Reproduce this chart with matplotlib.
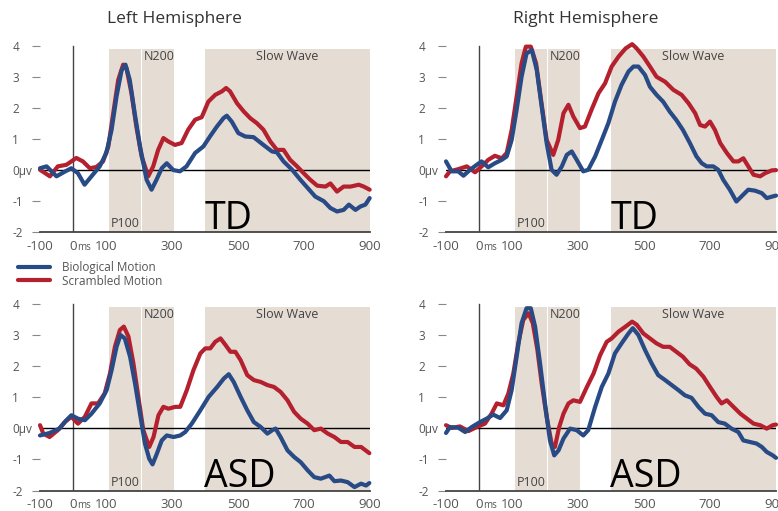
import matplotlib
matplotlib.use("Agg")
import matplotlib.pyplot as plt

plt.rcParams['font.family'] = ['Open Sans', 'DejaVu Sans']

# ---------------- data (ms, µV) ----------------
tl_bio_x = [-100, -80, -50, -25, -5, 15, 35, 56, 81, 101, 117, 132, 147, 159, 172, 187, 203, 223, 238, 253, 269, 284, 304, 324, 344, 370, 395, 415, 436, 456, 466, 481, 501, 522, 547, 577, 603, 618, 638, 664, 689, 714, 734, 760, 780, 800, 820, 836, 856, 871, 886, 899]
tl_bio_y = [0.06, 0.12, -0.2, -0.05, 0.06, -0.1, -0.47, -0.2, 0.12, 0.55, 1.3, 2.37, 3.2, 3.39, 2.9, 1.83, 0.76, -0.31, -0.63, -0.31, 0.06, 0.22, 0.0, -0.04, 0.12, 0.55, 0.76, 1.08, 1.4, 1.67, 1.75, 1.56, 1.19, 1.08, 1.06, 0.81, 0.6, 0.57, 0.28, 0.01, -0.31, -0.61, -0.85, -1.0, -1.22, -1.33, -1.28, -1.11, -1.28, -1.17, -1.11, -0.9]
tl_scr_x = [-100, -70, -46, -20, 10, 30, 51, 71, 91, 107, 122, 137, 152, 162, 177, 192, 208, 228, 243, 258, 274, 289, 309, 329, 349, 370, 390, 410, 431, 451, 464, 476, 497, 517, 537, 557, 577, 598, 618, 638, 658, 679, 699, 719, 740, 765, 780, 800, 820, 841, 866, 881, 899]
tl_scr_y = [0.01, -0.2, 0.12, 0.17, 0.39, 0.28, 0.06, 0.1, 0.28, 0.76, 1.83, 2.9, 3.39, 3.28, 2.48, 1.4, 0.44, -0.2, 0.12, 0.65, 1.03, 0.92, 0.81, 0.87, 1.3, 1.62, 1.7, 2.2, 2.42, 2.53, 2.64, 2.53, 2.15, 1.89, 1.67, 1.51, 1.3, 0.92, 0.65, 0.65, 0.33, 0.12, -0.1, -0.31, -0.5, -0.53, -0.43, -0.69, -0.53, -0.53, -0.47, -0.53, -0.63]

tr_bio_x = [-100, -83, -63, -47, -27, -7, 8, 28, 48, 69, 84, 99, 114, 129, 144, 160, 175, 190, 205, 220, 235, 251, 266, 281, 296, 316, 331, 352, 372, 392, 412, 432, 453, 468, 483, 503, 518, 538, 558, 578, 598, 618, 639, 659, 675, 690, 710, 725, 740, 760, 780, 796, 816, 836, 857, 872, 892, 900]
tr_bio_y = [0.28, -0.04, -0.04, -0.18, 0.01, 0.17, 0.28, 0.09, 0.22, 0.33, 0.44, 0.97, 1.94, 3.0, 3.75, 3.86, 3.22, 2.04, 0.87, 0.01, -0.15, 0.12, 0.49, 0.6, 0.33, -0.04, 0.01, 0.44, 0.97, 1.51, 2.2, 2.74, 3.17, 3.33, 3.33, 3.06, 2.68, 2.42, 2.2, 1.88, 1.61, 1.29, 0.87, 0.44, 0.22, 0.12, 0.12, 0.01, -0.31, -0.63, -1.01, -0.84, -0.63, -0.66, -0.74, -0.9, -0.84, -0.82]
tr_scr_x = [-100, -88, -63, -37, -12, 8, 28, 48, 69, 84, 99, 114, 129, 142, 157, 173, 188, 205, 225, 240, 256, 271, 286, 306, 321, 341, 362, 382, 402, 423, 444, 464, 478, 498, 518, 538, 564, 589, 614, 635, 655, 670, 685, 700, 715, 731, 751, 771, 786, 801, 816, 832, 852, 867, 887, 900]
tr_scr_y = [-0.2, -0.04, 0.03, 0.12, -0.07, 0.12, 0.33, 0.46, 0.38, 0.55, 1.29, 2.36, 3.43, 3.97, 3.97, 3.43, 2.26, 0.97, 0.49, 0.97, 1.83, 2.1, 1.72, 1.35, 1.4, 1.94, 2.47, 2.79, 3.33, 3.65, 3.91, 4.05, 3.91, 3.65, 3.33, 3.0, 2.84, 2.58, 2.42, 2.15, 1.83, 1.45, 1.4, 1.56, 1.29, 0.87, 0.55, 0.28, 0.28, 0.38, 0.12, -0.15, -0.2, -0.1, -0.01, 0.0]

bl_bio_x = [-100, -71, -41, -20, -5, 15, 36, 56, 81, 102, 117, 132, 144, 157, 173, 188, 203, 218, 231, 241, 254, 269, 284, 305, 325, 340, 360, 386, 411, 437, 457, 472, 487, 508, 528, 548, 569, 589, 604, 614, 629, 650, 670, 690, 711, 731, 751, 777, 792, 812, 832, 853, 873, 888, 898]
bl_bio_y = [-0.23, -0.15, -0.01, 0.26, 0.42, 0.31, 0.26, 0.47, 0.8, 1.23, 1.87, 2.62, 3.0, 2.89, 2.3, 1.44, 0.47, -0.49, -0.98, -1.16, -0.82, -0.39, -0.23, -0.28, -0.23, -0.12, 0.15, 0.58, 1.01, 1.33, 1.6, 1.74, 1.49, 1.01, 0.58, 0.2, 0.04, -0.17, -0.06, -0.01, -0.28, -0.71, -0.92, -1.09, -1.35, -1.57, -1.62, -1.52, -1.7, -1.68, -1.73, -1.89, -1.78, -1.84, -1.76]
bl_scr_x = [-100, -90, -71, -46, -25, -5, 15, 36, 56, 76, 96, 112, 127, 142, 154, 168, 183, 198, 213, 231, 244, 259, 274, 289, 310, 325, 345, 365, 386, 401, 416, 431, 447, 462, 477, 492, 508, 528, 548, 569, 589, 609, 629, 650, 670, 690, 711, 731, 751, 772, 792, 812, 832, 853, 873, 898]
bl_scr_y = [0.1, -0.17, -0.28, -0.06, 0.2, 0.37, 0.15, 0.37, 0.8, 0.8, 1.12, 1.76, 2.62, 3.16, 3.27, 2.95, 2.09, 1.01, -0.06, -0.6, -0.28, 0.42, 0.69, 0.63, 0.69, 0.69, 1.23, 1.87, 2.41, 2.57, 2.57, 2.78, 2.89, 2.68, 2.46, 2.46, 2.19, 1.71, 1.55, 1.49, 1.39, 1.33, 1.17, 0.9, 0.53, 0.31, 0.15, -0.06, -0.01, -0.17, -0.28, -0.44, -0.44, -0.6, -0.6, -0.8]

br_bio_x = [-100, -88, -63, -42, -22, 3, 23, 43, 64, 84, 99, 114, 129, 144, 157, 170, 185, 200, 215, 228, 241, 256, 276, 296, 316, 331, 352, 372, 392, 412, 432, 453, 466, 483, 503, 523, 543, 564, 584, 604, 624, 644, 665, 685, 705, 725, 745, 765, 786, 801, 821, 841, 857, 872, 890, 900]
br_bio_y = [-0.15, 0.04, 0.02, -0.12, 0.04, 0.2, 0.31, 0.44, 0.33, 0.58, 1.23, 2.3, 3.38, 3.86, 3.86, 3.27, 2.09, 0.8, -0.39, -0.87, -0.71, -0.33, -0.01, -0.06, -0.23, -0.06, 0.69, 1.33, 1.76, 2.41, 2.73, 3.05, 3.22, 3.0, 2.52, 2.09, 1.71, 1.55, 1.39, 1.23, 1.06, 0.98, 0.69, 0.47, 0.42, 0.2, 0.15, -0.01, -0.12, -0.39, -0.44, -0.49, -0.6, -0.76, -0.87, -0.95]
br_scr_x = [-100, -83, -58, -32, -7, 18, 38, 54, 74, 89, 104, 119, 134, 150, 163, 177, 190, 205, 220, 230, 243, 256, 271, 286, 306, 327, 347, 367, 387, 402, 423, 444, 464, 478, 498, 518, 538, 558, 578, 598, 618, 638, 658, 680, 700, 720, 735, 751, 771, 792, 812, 832, 852, 872, 890, 900]
br_scr_y = [0.1, 0.01, 0.06, -0.09, 0.04, 0.15, 0.47, 0.8, 0.74, 1.12, 1.76, 2.73, 3.48, 3.7, 3.38, 2.52, 1.44, 0.37, -0.49, -0.6, 0.04, 0.47, 0.8, 0.9, 0.85, 1.33, 1.76, 2.35, 2.78, 2.89, 3.11, 3.27, 3.43, 3.33, 3.05, 2.89, 2.73, 2.62, 2.62, 2.46, 2.3, 2.06, 1.92, 1.66, 1.33, 1.01, 0.8, 0.9, 0.69, 0.47, 0.31, 0.15, 0.1, -0.01, 0.1, 0.12]

x_ticks = [-100, 0, 100, 300, 500, 700, 900]
x_tick_labels = ['-100', '0', '100', '300', '500', '700', '900']
y_ticks = [-2, -1, 0, 1, 2, 3, 4]
y_tick_labels = ['-2', '-1', '0µv', '1', '2', '3', '4']
windows = [('P100', 110, 207), ('N200', 210, 305), ('Slow Wave', 400, 900)]
series_names = ['Biological Motion', 'Scrambled Motion']
titles = ['Left Hemisphere', 'Right Hemisphere']
groups = ['TD', 'ASD']

BLUE = '#284a85'
RED = '#b4202e'
SHADE = '#e5dcd4'
GREY = '#555555'

W, H = 778, 511
fig = plt.figure(figsize=(W / 100, H / 100), dpi=100)

panels = [
    (tl_bio_x, tl_bio_y, tl_scr_x, tl_scr_y, 40, 232.3, 'TD'),
    (tr_bio_x, tr_bio_y, tr_scr_x, tr_scr_y, 446, 232.3, 'TD'),
    (bl_bio_x, bl_bio_y, bl_scr_x, bl_scr_y, 40, 490.5, 'ASD'),
    (br_bio_x, br_bio_y, br_scr_x, br_scr_y, 446, 490.5, 'ASD'),
]

unit = 31.1
ytop = 4.2
axes = []
for (bx, by, sx, sy, left_px, bottom_px, grp) in panels:
    height_px = (ytop + 2) * unit
    ax = fig.add_axes([left_px / W, 1 - bottom_px / H, 330 / W, height_px / H])
    ax.set_xlim(-100, 900)
    ax.set_ylim(-2, ytop)
    for name, a, b in windows:
        ax.fill_between([a, b], [-2, -2], [3.9, 3.9], color=SHADE, lw=0, zorder=0)
    ax.plot([0, 0], [-2, 4], color='#444444', lw=1.0, zorder=1)
    ax.plot([-100, 900], [0, 0], color='black', lw=1.0, zorder=1)
    lb, = ax.plot(bx, by, color=BLUE, lw=3.0, solid_joinstyle='round',
                  solid_capstyle='round', zorder=4, clip_on=False)
    ls, = ax.plot(sx, sy, color=RED, lw=3.0, solid_joinstyle='round',
                  solid_capstyle='round', zorder=3, clip_on=False)
    ax.text(115, -1.73, 'P100', fontsize=9, color='#444444', ha='left', va='center', zorder=2)
    ax.text(213, 3.65, 'N200', fontsize=9, color='#444444', ha='left', va='center', zorder=2)
    ax.text(650, 3.65, 'Slow Wave', fontsize=9, color='#444444', ha='center', va='center', zorder=2)
    ax.text(398, -1.88, grp, fontsize=27, color='black', ha='left', va='baseline', zorder=5)

    for s in ['top', 'right', 'left']:
        ax.spines[s].set_visible(False)
    ax.spines['bottom'].set_color('#444444')
    ax.spines['bottom'].set_linewidth(1.3)

    ax.set_xticks(x_ticks)
    ax.set_xticklabels(x_tick_labels)
    ax.tick_params(axis='x', length=0, pad=5.5, labelsize=9.5, labelcolor=GREY)
    ax.annotate('ms', xy=(0, -2), xycoords='data', xytext=(4.5, -17.5),
                textcoords='offset pixels', fontsize=7, color=GREY,
                ha='left', va='baseline')

    ax.set_yticks(y_ticks)
    ax.set_yticklabels(y_tick_labels)
    ax.tick_params(axis='y', length=5.5, width=0.8, color='#888888', direction='out',
                   pad=14.5, labelsize=8.5, labelcolor=GREY)
    for lab in ax.get_yticklabels():
        lab.set_horizontalalignment('left')
    ax.yaxis.get_major_ticks()[2].tick1line.set_visible(False)
    axes.append((ax, lb, ls))

fig.text(174 / W, 1 - 19 / H, titles[0], fontsize=12.5, color='#333333', ha='center', va='center')
fig.text(586 / W, 1 - 19 / H, titles[1], fontsize=12.5, color='#333333', ha='center', va='center')

ax0, lb0, ls0 = axes[0]
fig.legend([lb0, ls0], series_names, loc='upper left',
           bbox_to_anchor=(18 / W, 1 - 261 / H), frameon=False, borderpad=0,
           borderaxespad=0, handlelength=2.7, handletextpad=1.0, labelspacing=0.05,
           fontsize=8.5, labelcolor=GREY)

fig.savefig('out.png', dpi=100)
